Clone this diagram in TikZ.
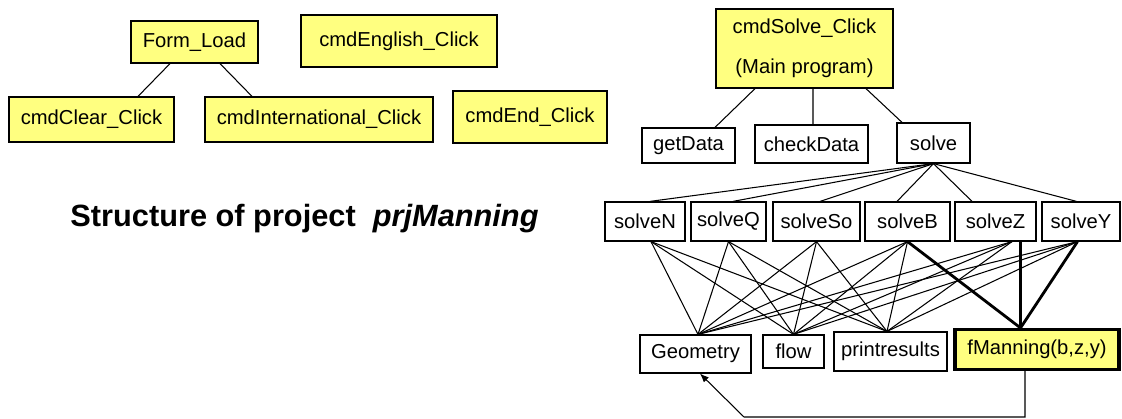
\documentclass[tikz,border=0pt]{standalone}
\usepackage{fontspec}
\setmainfont{Liberation Sans}
\usepackage{xcolor}
\usetikzlibrary{arrows.meta}
\definecolor{paleyellow}{RGB}{255,255,128}

\begin{document}
\begin{tikzpicture}[
    x=0.02cm, y=-0.02cm,
    box/.style={rectangle, draw, line width=0.7pt, inner sep=0pt, align=center, font=\fontsize{11.5}{13.5}\selectfont, fill=#1},
    box/.default=white,
    link/.style={line width=0.6pt},
    hot/.style={line width=1.6pt},
    arrow/.style={-{Latex[length=5pt,width=4pt]}, line width=0.6pt},
]
\useasboundingbox (0,0) rectangle (1122,419);

\node[box=paleyellow, minimum width=2.54cm, minimum height=0.84cm] (formload) at (194.5,42) {Form\_Load};
\node[box=paleyellow, minimum width=3.92cm, minimum height=1.04cm] (english) at (399,41) {cmdEnglish\_Click};
\node[box=paleyellow, minimum width=3.3cm, minimum height=0.9cm] (clear) at (91.5,119.5) {cmdClear\_Click};
\node[box=paleyellow, minimum width=4.56cm, minimum height=0.9cm] (intl) at (319,119.5) {cmdInternational\_Click};
\node[box=paleyellow, minimum width=3.08cm, minimum height=1.04cm] (endclick) at (530,117) {cmdEnd\_Click};

\node[font=\fontsize{17.5}{20}\selectfont\bfseries] (title) at (304.5,219) {Structure of project\ \ \textit{prjManning}};

\node[box=paleyellow, minimum width=3.54cm, minimum height=1.58cm] (main) at (804.5,48.5) {cmdSolve\_Click\\[9pt](Main program)};
\node[box, minimum width=1.86cm, minimum height=0.7cm] (getdata) at (688.5,145.5) {getData};
\node[box, minimum width=2.26cm, minimum height=0.76cm] (checkdata) at (811.5,144) {checkData};
\node[box, minimum width=1.46cm, minimum height=0.8cm] (solve) at (933.5,143) {solve};

\node[box, minimum width=1.6cm, minimum height=0.78cm] (solveN) at (645,221.5) {solveN};
\node[box, minimum width=1.5cm, minimum height=0.78cm] (solveQ) at (728.5,221.5) {solveQ};
\node[box, minimum width=1.74cm, minimum height=0.78cm] (solveSo) at (816.5,221.5) {solveSo};
\node[box, minimum width=1.7cm, minimum height=0.78cm] (solveB) at (907.5,221.5) {solveB};
\node[box, minimum width=1.62cm, minimum height=0.78cm] (solveZ) at (995.5,221.5) {solveZ};
\node[box, minimum width=1.56cm, minimum height=0.78cm] (solveY) at (1081,221.5) {solveY};

\node[box, minimum width=2.22cm, minimum height=0.76cm] (geom) at (695.5,354) {Geometry};
\node[box, minimum width=1.22cm, minimum height=0.66cm] (flow) at (793.5,351.5) {flow};
\node[box, minimum width=2.26cm, minimum height=0.78cm] (print) at (890.5,351.5) {printresults};
\node[box=paleyellow, line width=1.8pt, minimum width=3.28cm, minimum height=0.8cm] (fman) at (1037,349.5) {fManning(b,z,y)};

\coordinate (ret1) at (1025,417);
\coordinate (ret2) at (744,417);

\draw[link] ([xshift=-0.49cm]formload.south) -- ([xshift=0.93cm]clear.north);
\draw[link] ([xshift=0.51cm]formload.south) -- ([xshift=-1.34cm]intl.north);

\draw[link] ([xshift=-0.99cm]main.south) -- ([xshift=0.53cm]getdata.north);
\draw[link] ([xshift=0.17cm]main.south) -- ([xshift=0.03cm]checkdata.north);
\draw[link] ([xshift=1.23cm]main.south) -- ([xshift=-0.63cm]solve.north);

\foreach \a/\dx in {solveN/0.1, solveQ/0.09, solveSo/0.07, solveB/-0.21, solveZ/-0.47, solveY/-0.09} {
    \draw[link] (solve.south) -- ([xshift=\dx cm]\a.north);
}

\foreach \a/\dx in {solveN/0.12, solveQ/0, solveSo/0, solveB/0, solveZ/0.33, solveY/-0.07} {
    \foreach \b/\ex in {geom/0.05, flow/0, print/-0.07} {
        \draw[link] ([xshift=\dx cm]\a.south) -- ([xshift=\ex cm]\b.north);
    }
}

\foreach \a/\dx in {solveB/0, solveZ/0.5, solveY/-0.07} {
    \draw[hot] ([xshift=\dx cm]\a.south) -- ([xshift=-0.33cm]fman.north);
}

\draw[arrow] ([xshift=-0.24cm]fman.south) -- (ret1) -- (ret2) -- ([xshift=0.09cm]geom.south);

\end{tikzpicture}
\end{document}
